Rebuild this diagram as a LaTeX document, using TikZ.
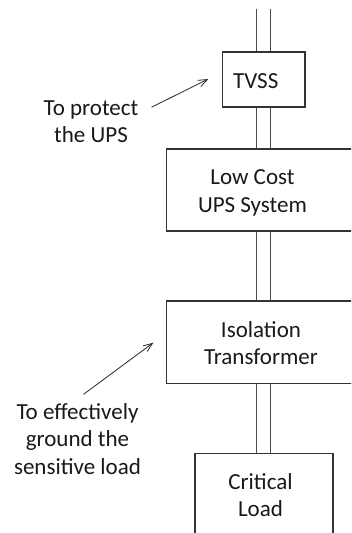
\documentclass[tikz,border=0pt]{standalone}
\usepackage{fontspec}
\setmainfont{Carlito}
\usetikzlibrary{arrows.meta,calc}
\begin{document}
\begin{tikzpicture}[x=1pt,y=-1pt,
  box/.style={draw=black!80,line width=1.6pt,inner sep=0pt},
  txt/.style={font=\fontsize{23}{27.5}\selectfont,align=center,inner sep=0pt,anchor=base,text=black!90},
  feed/.style={draw=black!70,line width=0.9pt},
  arr/.style={draw=black!85,line width=0.8pt,-{Straight Barb[length=9pt,width=7pt]}}]
\clip (0,0) rectangle (351,533);
% boxes
\node[box,minimum width=82.7pt,minimum height=55pt] (tvss) at (263.7,79.2) {};
\node[box,minimum width=213.3pt,minimum height=82pt] (ups) at (273.3,190) {};
\node[box,minimum width=213.3pt,minimum height=82.3pt] (iso) at (273.3,342.2) {};
\node[box,minimum width=137.7pt,minimum height=106.7pt] (load) at (263.9,506.7) {};
% box texts (anchored on the last line)
\node[txt] (tvsst) at (255.7,88.3) {TVSS};
\node[txt] (upst) at (252.5,212.3) {Low Cost\\UPS System};
\node[txt] (isot) at (261,364.6) {Isolation\\Transformer};
\node[txt] (loadt) at (260.5,516.7) {Critical\\Load};
% double feed lines
\coordinate (bus) at (263.35,9);
\foreach \dx in {-6.6,6.6}{
  \draw[feed] ($(bus)+(\dx,0)$) -- ($(bus |- tvss.north)+(\dx,0)$);
  \draw[feed] ($(bus |- tvss.south)+(\dx,0)$) -- ($(bus |- ups.north)+(\dx,0)$);
  \draw[feed] ($(bus |- ups.south)+(\dx,0)$) -- ($(bus |- iso.north)+(\dx,0)$);
  \draw[feed] ($(bus |- iso.south)+(\dx,0)$) -- ($(bus |- load.north)+(\dx,0)$);
}
% notes
\node[txt] (protect) at (91,142.7) {To protect\\the UPS};
\node[txt] (ground) at (77.5,474) {To effectively\\ground the\\sensitive load};
\coordinate (tip1) at (208.3,79);
\coordinate (tip2) at (153.3,342.7);
\draw[arr] ([shift={(13,7)}]protect.north east) -- (tip1);
\draw[arr] ([shift={(6,-8.5)}]ground.north) -- (tip2);
\end{tikzpicture}
\end{document}
